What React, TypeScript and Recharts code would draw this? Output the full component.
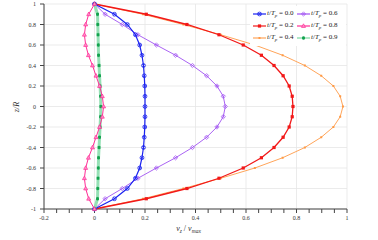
import React from "react";
import { ScatterChart, Scatter, XAxis, YAxis, CartesianGrid, Legend } from "recharts";

// z/R sample points, top to bottom
const zValues = [
  1, 0.9, 0.8, 0.7, 0.6, 0.5, 0.4, 0.3, 0.2, 0.1, 0,
  -0.1, -0.2, -0.3, -0.4, -0.5, -0.6, -0.7, -0.8, -0.9, -1,
];

// v_z / v_max for each phase t/T_p
const vT00 = [0, 0.079, 0.13, 0.162, 0.179, 0.188, 0.194, 0.197, 0.199, 0.2, 0.2, 0.2, 0.199, 0.197, 0.194, 0.188, 0.179, 0.162, 0.13, 0.079, 0];
const vT02 = [0, 0.205, 0.366, 0.493, 0.589, 0.661, 0.711, 0.747, 0.771, 0.783, 0.786, 0.783, 0.771, 0.747, 0.711, 0.661, 0.589, 0.493, 0.366, 0.205, 0];
const vT04 = [0, 0.192, 0.352, 0.5, 0.635, 0.745, 0.833, 0.898, 0.946, 0.973, 0.984, 0.973, 0.946, 0.898, 0.833, 0.745, 0.635, 0.5, 0.352, 0.192, 0];
const vT06 = [0, 0.042, 0.11, 0.172, 0.245, 0.321, 0.388, 0.444, 0.485, 0.51, 0.518, 0.51, 0.485, 0.444, 0.388, 0.321, 0.245, 0.172, 0.11, 0.042, 0];
const vT08 = [0, -0.023, -0.035, -0.04, -0.035, -0.024, -0.008, 0.006, 0.02, 0.031, 0.036, 0.031, 0.02, 0.006, -0.008, -0.024, -0.035, -0.04, -0.035, -0.023, 0];
const vT09 = [0, 0.012, 0.013, 0.014, 0.015, 0.016, 0.018, 0.02, 0.022, 0.024, 0.025, 0.024, 0.022, 0.02, 0.018, 0.016, 0.015, 0.014, 0.013, 0.012, 0];

const xTicks = [-0.2, -0.15, -0.1, -0.05, 0, 0.05, 0.1, 0.15, 0.2, 0.25, 0.3, 0.35, 0.4, 0.45, 0.5, 0.55, 0.6, 0.65, 0.7, 0.75, 0.8, 0.85, 0.9, 0.95, 1];
const xLabelTicks = [-0.2, 0, 0.2, 0.4, 0.6, 0.8, 1];
const yTicks = [-1, -0.8, -0.6, -0.4, -0.2, 0, 0.2, 0.4, 0.6, 0.8, 1];

const seriesNames = ["0.0", "0.2", "0.4", "0.6", "0.8", "0.9"];

const toPoints = (vals: number[]) => zValues.map((z, i) => ({ z, v: vals[i] }));

type MarkerKind = "circleX" | "square" | "small" | "diamondX" | "triangle" | "star";

function Marker({ kind, cx, cy, color }: { kind: MarkerKind; cx: number; cy: number; color: string }) {
  if (cx == null || cy == null) return null;
  switch (kind) {
    case "circleX":
      return (
        <g stroke={color} strokeWidth={0.8} fill="none">
          <circle cx={cx} cy={cy} r={1.9} />
          <path d={`M${cx - 1.2},${cy - 1.2}L${cx + 1.2},${cy + 1.2}M${cx - 1.2},${cy + 1.2}L${cx + 1.2},${cy - 1.2}`} />
        </g>
      );
    case "square":
      return <rect x={cx - 1.6} y={cy - 1.6} width={3.2} height={3.2} fill={color} />;
    case "small":
      return <rect x={cx - 1} y={cy - 1} width={2} height={2} fill={color} />;
    case "diamondX":
      return (
        <g stroke={color} strokeWidth={0.7} fill="none">
          <path d={`M${cx},${cy - 2.2}L${cx + 2.2},${cy}L${cx},${cy + 2.2}L${cx - 2.2},${cy}Z`} />
          <path d={`M${cx - 1},${cy - 1}L${cx + 1},${cy + 1}M${cx - 1},${cy + 1}L${cx + 1},${cy - 1}`} />
        </g>
      );
    case "triangle":
      return (
        <path
          d={`M${cx},${cy - 2.2}L${cx + 2},${cy + 1.4}L${cx - 2},${cy + 1.4}Z`}
          fill="#ff8fc8"
          stroke={color}
          strokeWidth={0.7}
        />
      );
    case "star":
      return (
        <g fill={color}>
          <rect x={cx - 1.4} y={cy - 1.4} width={2.8} height={2.8} />
          <path d={`M${cx},${cy - 2.2}L${cx + 0.8},${cy}L${cx},${cy + 2.2}L${cx - 0.8},${cy}Z`} />
        </g>
      );
  }
}

const series = [
  { key: "t04", vals: vT04, color: "#ff9a45", line: "#ffa55a", width: 1, kind: "small" as MarkerKind, opacity: 1 },
  { key: "t02", vals: vT02, color: "#f21818", line: "#f21818", width: 1.3, kind: "square" as MarkerKind, opacity: 1 },
  { key: "t06", vals: vT06, color: "#a052f2", line: "#a052f2", width: 0.9, kind: "diamondX" as MarkerKind, opacity: 1 },
  { key: "t00", vals: vT00, color: "#1a22f0", line: "#1a22f0", width: 1.2, kind: "circleX" as MarkerKind, opacity: 1 },
  { key: "t09", vals: vT09, color: "#13a24e", line: "#7ad9a2", width: 3, kind: "star" as MarkerKind, opacity: 0.8 },
  { key: "t08", vals: vT08, color: "#ff2d96", line: "#ff2d96", width: 1, kind: "triangle" as MarkerKind, opacity: 1 },
];

const legendItems = [
  { name: seriesNames[0], color: "#1a22f0", line: "#1a22f0", kind: "circleX" as MarkerKind },
  { name: seriesNames[3], color: "#a052f2", line: "#a052f2", kind: "diamondX" as MarkerKind },
  { name: seriesNames[1], color: "#f21818", line: "#f21818", kind: "square" as MarkerKind },
  { name: seriesNames[4], color: "#ff2d96", line: "#ff2d96", kind: "triangle" as MarkerKind },
  { name: seriesNames[2], color: "#ff9a45", line: "#ffa55a", kind: "small" as MarkerKind },
  { name: seriesNames[5], color: "#13a24e", line: "#7ad9a2", kind: "star" as MarkerKind },
];

const serif = "'Liberation Serif', 'DejaVu Serif', serif";

function LegendBox() {
  return (
    <div
      style={{
        background: "#fff",
        display: "grid",
        gridTemplateColumns: "44px 44px",
        gridAutoRows: "12px",
        padding: "2px 2px 2px 3px",
        fontFamily: serif,
        fontSize: 7,
        color: "#222",
      }}
    >
      {legendItems.map((it) => (
        <div key={it.name} style={{ display: "flex", alignItems: "center", whiteSpace: "nowrap" }}>
          <svg width={13} height={8} style={{ marginRight: 1 }}>
            <line x1={0} y1={4} x2={13} y2={4} stroke={it.line} strokeWidth={1.2} />
            <Marker kind={it.kind} cx={6.5} cy={4} color={it.color} />
          </svg>
          <span>
            <i>t</i>/<i>T</i>
            <sub style={{ fontSize: 5, fontStyle: "italic" }}>p</sub> = {it.name}
          </span>
        </div>
      ))}
    </div>
  );
}

const fmtX = (v: number) => (xLabelTicks.some((m) => Math.abs(m - v) < 1e-9) ? String(v) : "");

const tickStyle = { fontSize: 6, fontFamily: serif, fill: "#333" };

export default function App() {
  return (
    <div style={{ position: "absolute", left: 0, top: 0, width: 378, height: 240, background: "#fff" }}>
      <ScatterChart width={378} height={240} margin={{ top: 4, right: 31, bottom: 11, left: 14 }}>
        <CartesianGrid stroke="#e6e6e6" strokeWidth={0.8} verticalValues={xLabelTicks} horizontalValues={yTicks} />
        <XAxis
          dataKey="v"
          type="number"
          domain={[-0.2, 1]}
          ticks={xTicks}
          tickFormatter={fmtX}
          interval={0}
          height={20}
          tickSize={4}
          tickMargin={3}
          stroke="#444"
          tick={tickStyle}
          label={(props: any) => {
            const vb = props.viewBox || { x: 44, y: 209, width: 303 };
            return (
              <text x={vb.x + vb.width / 2 - 7} y={231} textAnchor="middle" fontFamily={serif} fontSize={8} fill="#333">
                <tspan fontStyle="italic">v</tspan>
                <tspan fontStyle="italic" fontSize={5.5} dy={1.5}>z</tspan>
                <tspan dy={-1.5}> / </tspan>
                <tspan fontStyle="italic">v</tspan>
                <tspan fontStyle="italic" fontSize={5.5} dy={1.5}>max</tspan>
              </text>
            );
          }}
        />
        <XAxis
          xAxisId="top"
          orientation="top"
          dataKey="v"
          type="number"
          domain={[-0.2, 1]}
          ticks={xTicks}
          interval={0}
          height={0}
          tickSize={4}
          tick={false}
          stroke="#444"
        />
        <YAxis
          dataKey="z"
          type="number"
          domain={[-1, 1]}
          ticks={yTicks}
          interval={0}
          width={30}
          tickSize={4}
          tickMargin={4}
          stroke="#444"
          tick={tickStyle}
          label={() => (
            <text
              x={19}
              y={107}
              transform="rotate(-90 19 107)"
              textAnchor="middle"
              fontFamily={serif}
              fontStyle="italic"
              fontSize={8}
              fill="#333"
            >
              z/R
            </text>
          )}
        />
        <YAxis
          yAxisId="right"
          orientation="right"
          dataKey="z"
          type="number"
          domain={[-1, 1]}
          ticks={yTicks}
          interval={0}
          width={0}
          tickSize={4}
          tick={false}
          stroke="#888"
          strokeWidth={1.5}
        />
        {series.map((s) => (
          <Scatter
            key={s.key}
            data={toPoints(s.vals)}
            fill={s.color}
            line={{ stroke: s.line, strokeWidth: s.width, strokeOpacity: s.opacity }}
            isAnimationActive={false}
            shape={(p: any) => <Marker kind={s.kind} cx={p.cx} cy={p.cy} color={s.color} />}
          />
        ))}
        <Legend
          layout="vertical"
          align="center"
          verticalAlign="middle"
          content={() => <LegendBox />}
          wrapperStyle={{ position: "absolute", left: 250, top: 6, width: 96, height: 40 }}
        />
      </ScatterChart>
    </div>
  );
}
